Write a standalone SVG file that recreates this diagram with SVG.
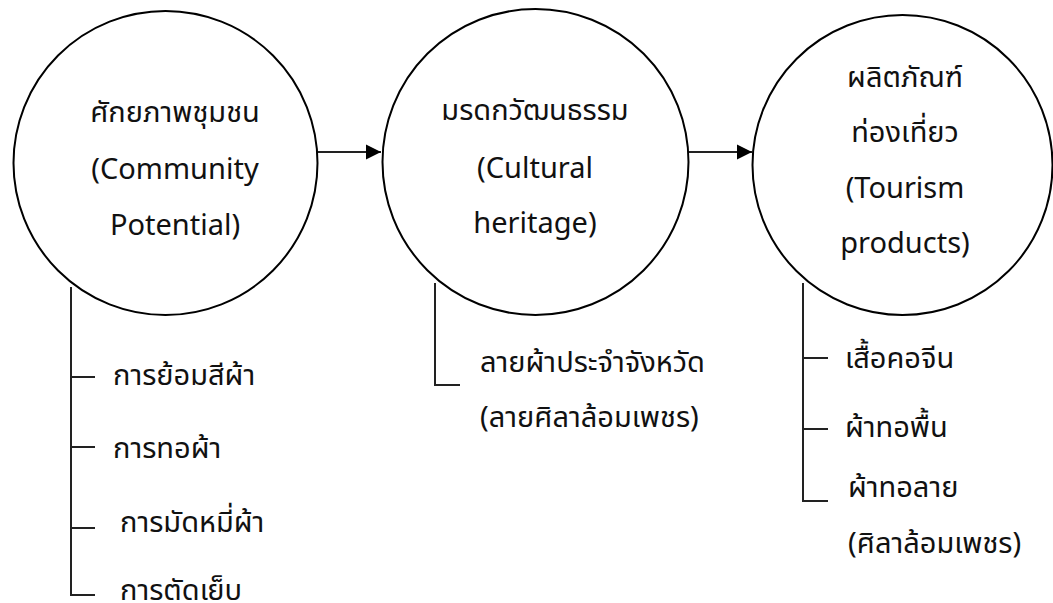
<svg xmlns="http://www.w3.org/2000/svg" width="1053" height="603" viewBox="0 0 1053 603">
<style>
.c{fill:#fff;stroke:#000;stroke-width:2}
.l{fill:none;stroke:#222;stroke-width:2}
.t{font-family:"Noto Sans Thai","Noto Sans","Liberation Sans",sans-serif;font-size:29px;fill:#111}
.m{text-anchor:middle}
</style>
<defs>
<marker id="ah" markerWidth="16" markerHeight="16" refX="15" refY="8" orient="auto" markerUnits="userSpaceOnUse">
<path d="M0,0.5 L15,8 L0,15.5 Z" fill="#000"/>
</marker>
</defs>
<rect width="1053" height="603" fill="#fff"/>
<g id="connectors">
<line class="l" x1="318" y1="152" x2="381" y2="152" marker-end="url(#ah)"/>
<line class="l" x1="689" y1="152" x2="752" y2="152" marker-end="url(#ah)"/>
<path class="l" d="M71,287 V595 H95 M71,377 H95 M71,447 H95 M71,528 H95"/>
<path class="l" d="M435,283 V385 H460"/>
<path class="l" d="M803,283 V501 H828 M803,358 H828 M803,429 H828"/>
</g>
<g id="node1">
<circle class="c" cx="165.5" cy="163" r="152"/>
<text class="t m" x="175" y="122">ศักยภาพชุมชน</text>
<text class="t m" x="175" y="179">(Community</text>
<text class="t m" x="175" y="235">Potential)</text>
</g>
<g id="node2">
<circle class="c" cx="535.5" cy="162" r="153"/>
<text class="t m" x="535" y="120">มรดกวัฒนธรรม</text>
<text class="t m" x="535" y="178">(Cultural</text>
<text class="t m" x="535" y="233">heritage)</text>
</g>
<g id="node3">
<circle class="c" cx="902.5" cy="165" r="150"/>
<text class="t m" x="905" y="87">ผลิตภัณฑ์</text>
<text class="t m" x="905" y="142">ท่องเที่ยว</text>
<text class="t m" x="905" y="198">(Tourism</text>
<text class="t m" x="905" y="253">products)</text>
</g>
<g id="list1">
<text class="t" x="113" y="385">การย้อมสีผ้า</text>
<text class="t" x="113" y="458">การทอผ้า</text>
<text class="t" x="120" y="532">การมัดหมี่ผ้า</text>
<text class="t" x="120" y="600">การตัดเย็บ</text>
</g>
<g id="list2">
<text class="t" x="480" y="372">ลายผ้าประจำจังหวัด</text>
<text class="t" x="480" y="427">(ลายศิลาล้อมเพชร)</text>
</g>
<g id="list3">
<text class="t" x="845" y="368">เสื้อคอจีน</text>
<text class="t" x="845" y="437">ผ้าทอพื้น</text>
<text class="t" x="848" y="497">ผ้าทอลาย</text>
<text class="t" x="848" y="553">(ศิลาล้อมเพชร)</text>
</g>
</svg>
